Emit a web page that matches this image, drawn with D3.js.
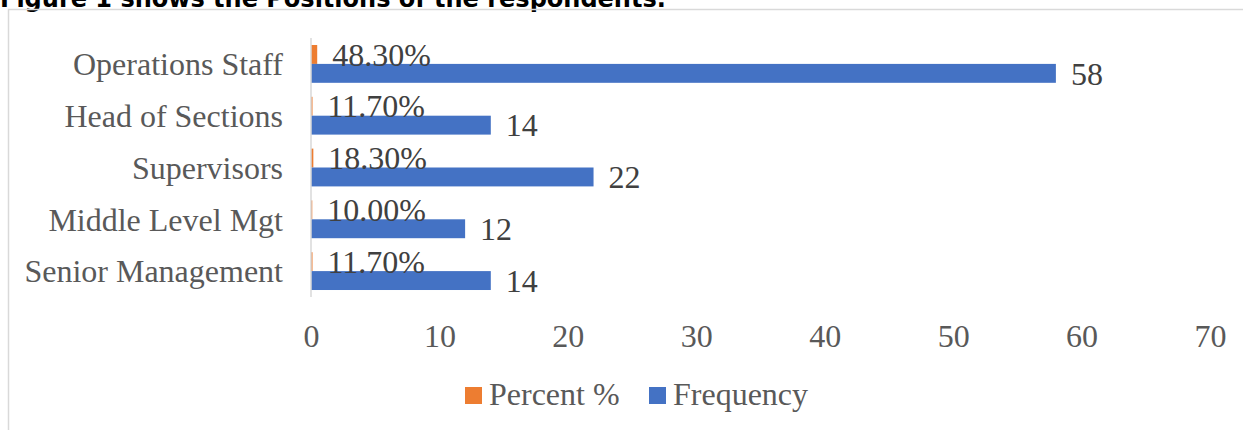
<!DOCTYPE html>
<html>
  <head>
    <meta charset="UTF-8" />
    <title>Positions of the respondents</title>
    <script src="https://d3js.org/d3.v7.min.js"></script>
    <style>
      * {
        margin: 0;
        padding: 0;
        box-sizing: border-box;
      }
      body {
        background-color: #ffffff;
        width: 1243px;
        height: 430px;
        overflow: hidden;
      }
      svg {
        display: block;
      }
      .title {
        font-family: "DejaVu Sans", Verdana, sans-serif;
        font-weight: bold;
        font-size: 24px;
        fill: #000000;
      }
      .lbl {
        font-family: "Liberation Serif", "Times New Roman", serif;
        font-size: 32px;
        fill: #595959;
      }
      .val {
        font-family: "Liberation Serif", "Times New Roman", serif;
        font-size: 32px;
        fill: #404040;
      }
    </style>
  </head>
  <body>
    <svg id="chart" width="1243" height="430"></svg>
  </body>
  <script>
    const categories = ["Operations Staff", "Head of Sections", "Supervisors", "Middle Level Mgt", "Senior Management"];
    const frequency = [58, 14, 22, 12, 14];
    // percent is stored as a fraction, so it plots as a sliver on the 0-70 axis
    const percent = [0.483, 0.117, 0.183, 0.100, 0.117];
    const seriesNames = ["Percent %", "Frequency"];
    const seriesColors = ["#ED7D31", "#4472C4"];
    const xTicks = [0, 10, 20, 30, 40, 50, 60, 70];

    const svg = d3.select("#chart");
    const fmtPct = d3.format(".2%");

    // title, cut off at the top like the screenshot
    svg.append("text")
      .attr("class", "title")
      .attr("x", 0)
      .attr("y", 6.5)
      .text("Figure 1 shows the Positions of the respondents.");

    // chart frame (only left and top edges are visible)
    svg.append("rect")
      .attr("x", 8.5)
      .attr("y", 9.5)
      .attr("width", 1300)
      .attr("height", 500)
      .attr("fill", "none")
      .attr("stroke", "#d9d9d9")
      .attr("stroke-width", 1.5);

    const x = d3.scaleLinear().domain([0, 70]).range([311, 1210]);
    const y = d3.scaleBand().domain(categories).range([38, 297]).paddingInner(0.27).paddingOuter(0.135);
    const inner = d3.scaleBand().domain(seriesNames).range([0, y.bandwidth()]);

    const rows = categories.map((c, i) => ({
      cat: c,
      values: [
        { key: seriesNames[0], v: percent[i], label: fmtPct(percent[i]) },
        { key: seriesNames[1], v: frequency[i], label: String(frequency[i]) }
      ]
    }));

    const color = d3.scaleOrdinal().domain(seriesNames).range(seriesColors);

    const groups = svg.append("g")
      .selectAll("g")
      .data(rows)
      .join("g")
      .attr("transform", d => `translate(0,${y(d.cat)})`);

    groups.selectAll("rect")
      .data(d => d.values)
      .join("rect")
      .attr("x", x(0))
      .attr("y", d => inner(d.key))
      .attr("width", d => x(d.v) - x(0))
      .attr("height", inner.bandwidth())
      .attr("fill", d => color(d.key));

    groups.selectAll("text")
      .data(d => d.values)
      .join("text")
      .attr("class", "val")
      .attr("x", d => x(d.v) + 15)
      .attr("y", d => inner(d.key) + inner.bandwidth() / 2)
      .attr("dy", "0.35em")
      .text(d => d.label);

    // category labels
    svg.append("g")
      .selectAll("text")
      .data(categories)
      .join("text")
      .attr("class", "lbl")
      .attr("x", 283)
      .attr("y", d => y(d) + y.bandwidth() / 2)
      .attr("dy", "0.35em")
      .attr("text-anchor", "end")
      .text(d => d);

    // vertical axis line
    svg.append("line")
      .attr("x1", x(0))
      .attr("x2", x(0))
      .attr("y1", 38)
      .attr("y2", 297)
      .attr("stroke", "#d9d9d9")
      .attr("stroke-width", 1.5);

    // x axis labels
    const xAxis = svg.append("g")
      .attr("transform", "translate(0,297)")
      .call(d3.axisBottom(x).tickValues(xTicks).tickSize(0).tickPadding(27));
    xAxis.select(".domain").remove();
    xAxis.selectAll("text")
      .attr("class", "lbl")
      .attr("font-size", null)
      .attr("font-family", null);

    // legend
    const legendX = [465, 649];
    const legend = svg.append("g")
      .selectAll("g")
      .data(seriesNames)
      .join("g")
      .attr("transform", (d, i) => `translate(${legendX[i]},387)`);
    legend.append("rect")
      .attr("width", 17)
      .attr("height", 17)
      .attr("fill", d => color(d));
    legend.append("text")
      .attr("class", "lbl")
      .attr("x", 24)
      .attr("y", 18)
      .text(d => d);
  </script>
</html>
